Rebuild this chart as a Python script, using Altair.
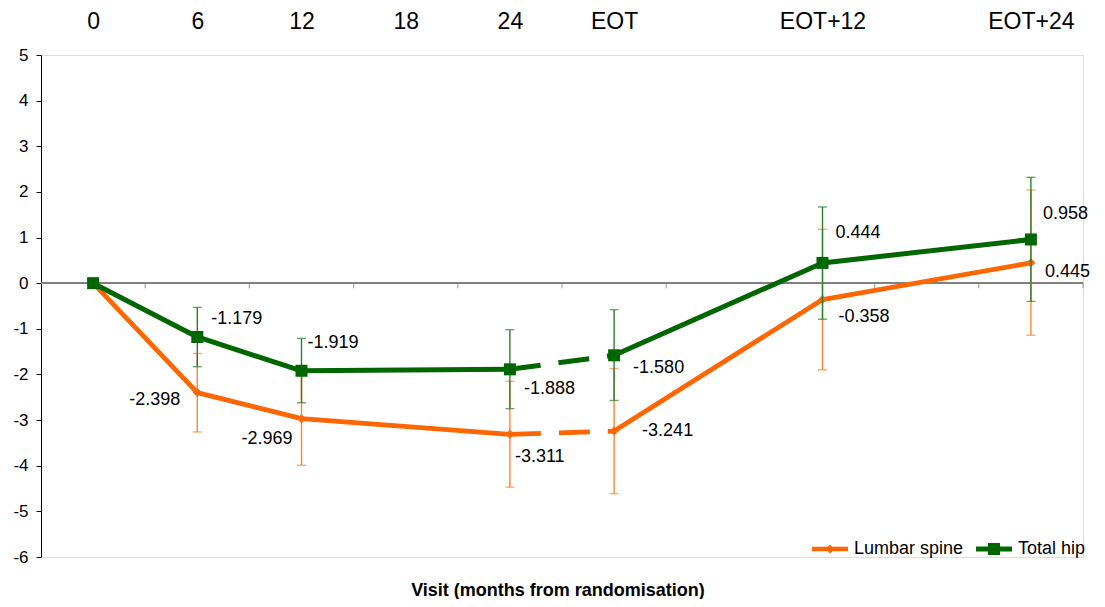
import json
import altair as alt
import pandas as pd

# ---------------- data ----------------
tick_labels = ["0", "6", "12", "18", "24", "EOT", "", "EOT+12", "", "EOT+24"]
visits = ["0", "6", "12", "24", "EOT", "EOT+12", "EOT+24"]
series_names = ["Lumbar spine", "Total hip"]

lumbar_mean = [0.0, -2.398, -2.969, -3.311, -3.241, -0.358, 0.445]
lumbar_upper = [0.0, -1.54, -1.95, -2.15, -1.87, 1.18, 2.04]
lumbar_lower = [0.0, -3.26, -3.99, -4.47, -4.61, -1.90, -1.14]

hip_mean = [0.0, -1.179, -1.919, -1.888, -1.580, 0.444, 0.958]
hip_upper = [0.0, -0.53, -1.21, -1.02, -0.58, 1.67, 2.32]
hip_lower = [0.0, -1.83, -2.62, -2.75, -2.57, -0.79, -0.40]

# line pieces: solid up to 24, dashed 24 -> EOT, solid afterwards
segments = [("pre", ["0", "6", "12", "24"], False),
            ("gap", ["24", "EOT"], True),
            ("post", ["EOT", "EOT+12", "EOT+24"], False)]

x_title = "Visit (months from randomisation)"

# ---------------- style ----------------
FONT = "Liberation Sans"
W, H = 1042, 502
styles = {
    "Lumbar spine": dict(color="#FF6600", bar="#FF8533", width=4.8, shape="diamond", size=81),
    "Total hip": dict(color="#006600", bar="#2E7D2E", width=5, shape="square", size=144),
}
legend_paths = [
    "M-1.8,-0.22H1.8V0.22H-1.8Z M0,-0.45L0.45,0L0,0.45L-0.45,0Z",
    "M-1.8,-0.25H1.8V0.25H-1.8Z M-0.6,-0.6H0.6V0.6H-0.6Z",
]
# label placement (align, dx, dy) per series / visit
label_pos = {
    "Lumbar spine": {"6": ("right", -17, 7), "12": ("right", -9, 20), "24": ("left", 5, 23),
                     "EOT": ("left", 28, 0), "EOT+12": ("left", 16, 17), "EOT+24": ("left", 14, 9)},
    "Total hip": {"6": ("left", 14, -18), "12": ("left", 6, -28), "24": ("left", 14, 20),
                  "EOT": ("left", 19, 13), "EOT+12": ("left", 13, -30), "EOT+24": ("left", 12, -25)},
}

label_expr = json.dumps(tick_labels) + "[datum.value]"

x_scale = alt.Scale(domain=[-0.5, len(tick_labels) - 0.5], nice=False, zero=False)
y_scale = alt.Scale(domain=[-6, 5], nice=False, zero=False)
x_axis = alt.Axis(orient="top", values=list(range(len(tick_labels))), labelExpr=label_expr,
                  domain=False, ticks=False, tickSize=0, grid=False, labelPadding=27,
                  labelBaseline="alphabetic", labelFontSize=23, labelColor="black",
                  labelFlush=False, labelOverlap=False, title=None, labelFont=FONT)
y_axis = alt.Axis(values=list(range(-6, 6)), labelExpr="'' + datum.value",
                  domainColor="black", tickColor="black",
                  tickSize=5, labelPadding=8, labelFontSize=17, labelColor="black",
                  grid=False, title=None, labelFont=FONT, domainWidth=1, tickWidth=1)


def X(field):
    return alt.X(field, type="quantitative", scale=x_scale, axis=x_axis)


def Y(field):
    return alt.Y(field, type="quantitative", scale=y_scale, axis=y_axis)


def series_frames(name, mean, lower, upper):
    pts = pd.DataFrame({
        "series": name, "visit": visits,
        "pos": [tick_labels.index(v) for v in visits],
        "mean": mean, "lower": lower, "upper": upper,
        "label": [f"{m:.3f}" for m in mean],
    })
    rows = []
    for seg, members, dashed in segments:
        for v in members:
            i = visits.index(v)
            rows.append({"seg": seg, "dashed": dashed, "pos": tick_labels.index(v), "mean": mean[i]})
    return pts, pd.DataFrame(rows)


layers = []

# zero line with tick marks at category boundaries
bounds = pd.DataFrame({"b": [i + 0.5 for i in range(len(tick_labels))], "zero": 0.0})
layers.append(alt.Chart(bounds).mark_rule(color="#808080", strokeWidth=1.5).encode(y=Y("zero")))
layers.append(alt.Chart(bounds).mark_tick(orient="vertical", size=5, thickness=1.2,
                                          color="#808080", yOffset=2.5).encode(x=X("b"), y=Y("zero")))

for name, mean, lower, upper in [("Lumbar spine", lumbar_mean, lumbar_lower, lumbar_upper),
                                 ("Total hip", hip_mean, hip_lower, hip_upper)]:
    st = styles[name]
    pts, line_df = series_frames(name, mean, lower, upper)
    err = pts[pts["upper"] != pts["lower"]]
    layers.append(alt.Chart(err).mark_rule(color=st["bar"], strokeWidth=1.4).encode(
        x=X("pos"), y=Y("lower"), y2="upper"))
    caps = alt.Chart(err).transform_fold(["lower", "upper"], as_=["k", "v"])
    layers.append(caps.mark_tick(orient="horizontal", size=9, thickness=1.4, color=st["bar"]).encode(
        x=X("pos"), y=Y("v")))
    layers.append(alt.Chart(line_df[~line_df["dashed"]]).mark_line(
        color=st["color"], strokeWidth=st["width"], strokeJoin="round").encode(
        x=X("pos"), y=Y("mean"), detail="seg:N", order="pos:Q"))
    layers.append(alt.Chart(line_df[line_df["dashed"]]).mark_line(
        color=st["color"], strokeWidth=st["width"], strokeDash=[31, 18]).encode(
        x=X("pos"), y=Y("mean"), detail="seg:N", order="pos:Q"))
    layers.append(alt.Chart(pts).mark_point(shape=st["shape"], size=st["size"], filled=True,
                                            color=st["color"], opacity=1).encode(
        x=X("pos"), y=Y("mean")))
    for v, (align, dx, dy) in label_pos[name].items():
        layers.append(alt.Chart(pts[pts["visit"] == v]).mark_text(
            align=align, baseline="middle", dx=dx, dy=dy, fontSize=18, font=FONT, color="black").encode(
            x=X("pos"), y=Y("mean"), text="label:N"))

legend = alt.Legend(orient="none", legendX=779, legendY=484, direction="horizontal", title=None,
                    labelFontSize=18, labelFont=FONT, labelColor="black", symbolSize=400,
                    symbolStrokeWidth=0, labelOffset=14, columnPadding=12)
legend_layer = alt.Chart(pd.DataFrame({"series": series_names})).transform_filter("false").mark_point(
    filled=True, opacity=1).encode(
    color=alt.Color("series:N", scale=alt.Scale(domain=series_names,
                                                range=[styles[n]["color"] for n in series_names]),
                    legend=legend),
    shape=alt.Shape("series:N", scale=alt.Scale(domain=series_names, range=legend_paths), legend=legend),
)
layers.append(legend_layer)

chart = alt.layer(*layers).properties(
    width=W, height=H,
    autosize=alt.AutoSizeParams(type="none"),
    padding={"left": 33, "top": 47, "right": 14, "bottom": 42},
    title=alt.TitleParams(x_title, orient="bottom", anchor="middle", frame="group", fontSize=18,
                          fontWeight="bold", font=FONT, color="black", offset=17, dx=-4),
).configure_view(stroke=None).configure(font=FONT)

chart.save("out.html", embed_options={"renderer": "svg", "actions": False})
